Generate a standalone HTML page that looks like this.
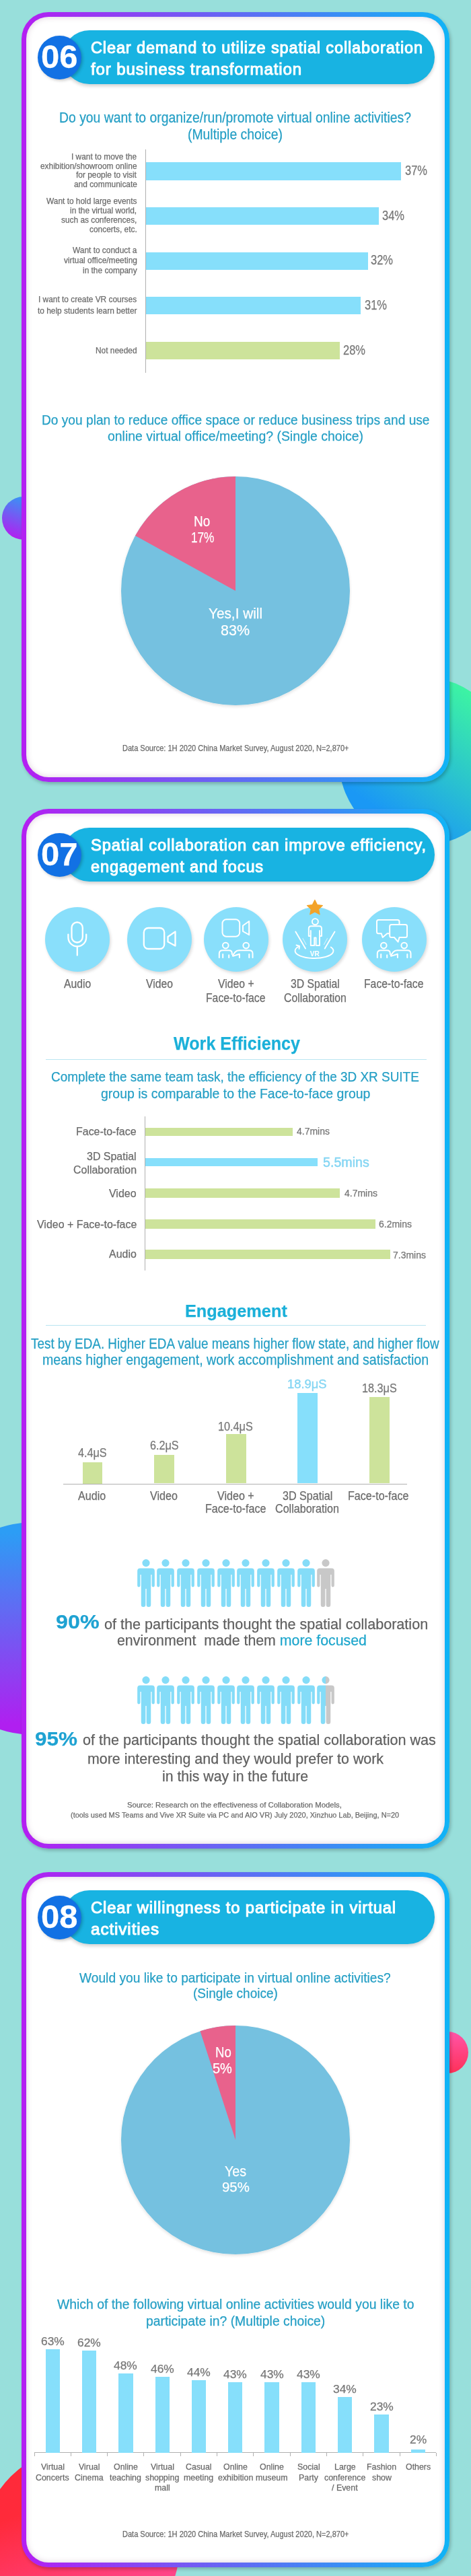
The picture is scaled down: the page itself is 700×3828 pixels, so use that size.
<!DOCTYPE html>
<html><head><meta charset="utf-8"><title>Spatial collaboration survey</title>
<style>
html,body{margin:0;padding:0}
body{width:700px;height:3828px;position:relative;overflow:hidden;background:#98dfdb;font-family:"Liberation Sans",sans-serif}
.t{position:absolute;white-space:pre;transform-origin:0 0;-webkit-text-stroke:0.25px currentColor}
svg{position:absolute;overflow:visible}
</style></head><body>
<div style="position:absolute;left:3.00px;top:738.00px;width:64.00px;height:64.00px;background:linear-gradient(200deg,#2f9cf6 10%,#b21ff0 90%);border-radius:50%;"></div>
<div style="position:absolute;left:504.00px;top:1006.00px;width:250.00px;height:250.00px;background:linear-gradient(215deg,#3ef7a0 12%,#1a98f5 78%);border-radius:50%;"></div>
<div style="position:absolute;left:-108.00px;top:2262.00px;width:316.00px;height:316.00px;background:linear-gradient(180deg,#2c9df5 5%,#b01ff0 95%);border-radius:50%;"></div>
<div style="position:absolute;left:634.00px;top:3019.00px;width:62.00px;height:62.00px;background:linear-gradient(180deg,#ff55a8,#ff3058);border-radius:50%;"></div>
<div style="position:absolute;left:-27.00px;top:3637.00px;width:294.00px;height:294.00px;background:linear-gradient(160deg,#ff2a3a 30%,#ff4fa8 90%);border-radius:50%;"></div>
<div style="position:absolute;left:32px;top:18px;width:636px;height:1144px;border-radius:40px;background:linear-gradient(90deg,#b41ef2,#10b4f6);box-shadow:2px 3px 5px rgba(0,0,0,0.22)"></div>
<div style="position:absolute;left:39px;top:25px;width:622px;height:1130px;border-radius:33px;background:#fff;box-shadow:inset 0 0 9px rgba(140,90,130,0.3)"></div>
<div style="position:absolute;left:32px;top:1202px;width:636px;height:1545px;border-radius:40px;background:linear-gradient(90deg,#b41ef2,#10b4f6);box-shadow:2px 3px 5px rgba(0,0,0,0.22)"></div>
<div style="position:absolute;left:39px;top:1209px;width:622px;height:1531px;border-radius:33px;background:#fff;box-shadow:inset 0 0 9px rgba(140,90,130,0.3)"></div>
<div style="position:absolute;left:32px;top:2782px;width:636px;height:1033px;border-radius:40px;background:linear-gradient(90deg,#b41ef2,#10b4f6);box-shadow:2px 3px 5px rgba(0,0,0,0.22)"></div>
<div style="position:absolute;left:39px;top:2789px;width:622px;height:1019px;border-radius:33px;background:#fff;box-shadow:inset 0 0 9px rgba(140,90,130,0.3)"></div>
<div style="position:absolute;left:93.00px;top:44.50px;width:553.00px;height:80.50px;background:#18b3e2;border-radius:40.25px;box-shadow:0 3px 5px rgba(0,0,0,0.18)"></div>
<div style="position:absolute;left:55.80px;top:52.90px;width:64.80px;height:64.80px;background:#1271e4;border-radius:50%;box-shadow:2px 2px 4px rgba(0,0,0,0.22)"></div>
<div style="position:absolute;left:93.00px;top:1229.50px;width:553.00px;height:80.50px;background:#18b3e2;border-radius:40.25px;box-shadow:0 3px 5px rgba(0,0,0,0.18)"></div>
<div style="position:absolute;left:55.80px;top:1237.90px;width:64.80px;height:64.80px;background:#1271e4;border-radius:50%;box-shadow:2px 2px 4px rgba(0,0,0,0.22)"></div>
<div style="position:absolute;left:93.00px;top:2808.50px;width:553.00px;height:80.50px;background:#18b3e2;border-radius:40.25px;box-shadow:0 3px 5px rgba(0,0,0,0.18)"></div>
<div style="position:absolute;left:55.80px;top:2816.90px;width:64.80px;height:64.80px;background:#1271e4;border-radius:50%;box-shadow:2px 2px 4px rgba(0,0,0,0.22)"></div>
<div style="position:absolute;left:215.60px;top:221.50px;width:1.00px;height:332.50px;background:#b0b0b0;border-radius:0px;"></div>
<div style="position:absolute;left:216.60px;top:241.00px;width:379.40px;height:27.00px;background:#86dffb;border-radius:0px;"></div>
<div style="position:absolute;left:216.60px;top:308.00px;width:346.60px;height:26.00px;background:#86dffb;border-radius:0px;"></div>
<div style="position:absolute;left:216.60px;top:374.50px;width:330.40px;height:26.20px;background:#86dffb;border-radius:0px;"></div>
<div style="position:absolute;left:216.60px;top:441.40px;width:319.40px;height:25.60px;background:#86dffb;border-radius:0px;"></div>
<div style="position:absolute;left:216.60px;top:507.70px;width:288.60px;height:26.30px;background:#cde39b;border-radius:0px;"></div>
<svg style="left:0;top:0" width="700" height="3828" viewBox="0 0 700 3828"><defs><filter id="ps878" x="-10%" y="-10%" width="120%" height="120%"><feDropShadow dx="0" dy="2" stdDeviation="2" flood-color="#000" flood-opacity="0.12"/></filter></defs><g filter="url(#ps878)"><circle cx="350" cy="878" r="170" fill="#74c1e0"/><path d="M350,878 L350,708 A170,170 0 0 0 201.03,796.10 Z" fill="#e8628c"/></g></svg>
<div style="position:absolute;left:67.00px;top:1347.50px;width:96.00px;height:96.00px;background:#89dffb;border-radius:50%;box-shadow:1.5px 2.5px 4px rgba(0,0,0,0.15)"></div>
<div style="position:absolute;left:189.30px;top:1347.50px;width:96.00px;height:96.00px;background:#89dffb;border-radius:50%;box-shadow:1.5px 2.5px 4px rgba(0,0,0,0.15)"></div>
<div style="position:absolute;left:302.50px;top:1347.50px;width:96.00px;height:96.00px;background:#89dffb;border-radius:50%;box-shadow:1.5px 2.5px 4px rgba(0,0,0,0.15)"></div>
<div style="position:absolute;left:420.00px;top:1347.50px;width:96.00px;height:96.00px;background:#89dffb;border-radius:50%;box-shadow:1.5px 2.5px 4px rgba(0,0,0,0.15)"></div>
<div style="position:absolute;left:537.50px;top:1347.50px;width:96.00px;height:96.00px;background:#89dffb;border-radius:50%;box-shadow:1.5px 2.5px 4px rgba(0,0,0,0.15)"></div>
<svg style="left:0;top:0" width="700" height="3828"><g fill="none" stroke="#fff" stroke-width="2.3" stroke-linecap="round" stroke-linejoin="round">
<rect x="106.5" y="1370.5" width="16.3" height="30" rx="8.15"/>
<path d="M101.4,1388.6 V1393 A13.4,13.4 0 0 0 128.2,1393 V1388.6"/>
<path d="M114.8,1406.6 V1419.5"/>
</g></svg>
<svg style="left:0;top:0" width="700" height="3828"><g fill="none" stroke="#fff" stroke-width="2.3" stroke-linejoin="round">
<rect x="213.8" y="1379" width="30.4" height="31" rx="6.5"/>
<path d="M249.5,1392 L260.5,1384.5 V1405.5 L249.5,1399.5 Z"/>
</g></svg>
<svg style="left:0;top:0" width="700" height="3828"><g fill="none" stroke="#fff" stroke-width="2" stroke-linejoin="round" stroke-linecap="round">
<rect x="330.5" y="1366.3" width="25.7" height="25.5" rx="6"/>
<path d="M361,1375.5 L370.2,1369 V1389.2 L361,1384 Z"/>
<g transform="translate(350.5,1395.5)"><circle cx="-15.2" cy="9.6" r="4.3"/><path d="M-24.7,27.5 V21.5 Q-24.7,16.8 -19.7,16.8 H-10.5 Q-5.7,16.8 -5.7,21 V22.5"/><path d="M-19.3,22.5 V27.5 M-10.3,23.8 V27.5"/><circle cx="15.2" cy="9.6" r="4.3"/><path d="M25,27.5 V21.5 Q25,16.8 20,16.8 H4.8 Q1.2,16.8 -1.2,19.5 L-4.6,24.2 Q-5.2,25.6 -3.6,25.1 L5.4,22.2 V27.5"/><path d="M19.8,22.5 V27.5"/></g>
</g></svg>
<svg style="left:0;top:0" width="700" height="3828"><g fill="none" stroke="#fff" stroke-width="1.9" stroke-linejoin="round" stroke-linecap="round">
<circle cx="468.4" cy="1369.6" r="4.5"/>
<path d="M458.8,1391 V1380 Q458.8,1376.3 462.5,1376.3 H474.3 Q478,1376.3 478,1380 V1391 H475 V1383 V1405 H469.6 V1393.5 H467.2 V1405 H461.8 V1383 V1391 Z"/>
<path d="M439.3,1384.5 L454,1409.5 M497.5,1384.5 L482.7,1409.5"/>
<path d="M450,1394.5 L455,1403.5 M486.5,1394.5 L481.5,1403.5" stroke-opacity="0.55" stroke-width="1.3"/>
<path d="M445,1406 A28.5,11 0 1 0 491.7,1407.5"/>
<path d="M440.5,1404.5 L445.2,1405.8 L444.5,1410"/>
</g>
<text x="467.6" y="1420.6" font-family="Liberation Sans" font-weight="700" font-size="11.5" fill="#fff" text-anchor="middle" textLength="14" lengthAdjust="spacingAndGlyphs">VR</text>
<path d="M467.9,1337.5 L471.4,1344.6 L479.3,1345.6 L473.5,1351 L475,1358.8 L467.9,1355 L460.8,1358.8 L462.3,1351 L456.5,1345.6 L464.4,1344.6 Z" fill="#f3a329" stroke="#f3a329" stroke-width="1.3" stroke-linejoin="round"/>
</svg>
<svg style="left:0;top:0" width="700" height="3828"><g fill="none" stroke="#fff" stroke-width="2" stroke-linejoin="round" stroke-linecap="round">
<path d="M593.5,1373.5 V1369.5 Q593.5,1367 591,1367 H562.5 Q560,1367 560,1369.5 V1384.8 Q560,1387.3 562.5,1387.3 H566.8 L568.7,1393 L575.4,1387.3 H579"/>
<path d="M581.7,1374 H602.5 Q605,1374 605,1376.5 V1390.5 Q605,1393 602.5,1393 H593.5 L591.6,1399.7 L585.9,1393 H581.7 Q579.2,1393 579.2,1390.5 V1376.5 Q579.2,1374 581.7,1374 Z"/>
<g transform="translate(585.5,1395.5)"><circle cx="-15.2" cy="9.6" r="4.3"/><path d="M-24.7,27.5 V21.5 Q-24.7,16.8 -19.7,16.8 H-10.5 Q-5.7,16.8 -5.7,21 V22.5"/><path d="M-19.3,22.5 V27.5 M-10.3,23.8 V27.5"/><circle cx="15.2" cy="9.6" r="4.3"/><path d="M25,27.5 V21.5 Q25,16.8 20,16.8 H4.8 Q1.2,16.8 -1.2,19.5 L-4.6,24.2 Q-5.2,25.6 -3.6,25.1 L5.4,22.2 V27.5"/><path d="M19.8,22.5 V27.5"/></g>
</g></svg>
<div style="position:absolute;left:67.60px;top:1574.00px;width:566.70px;height:1.20px;background:#b9e5f1;border-radius:0px;"></div>
<div style="position:absolute;left:215.00px;top:1658.50px;width:1.00px;height:229.30px;background:#b0b0b0;border-radius:0px;"></div>
<div style="position:absolute;left:216.00px;top:1675.50px;width:218.60px;height:12.50px;background:#cde39b;border-radius:0px;"></div>
<div style="position:absolute;left:216.00px;top:1720.60px;width:256.40px;height:12.40px;background:#86dffb;border-radius:0px;"></div>
<div style="position:absolute;left:216.00px;top:1766.30px;width:289.00px;height:14.10px;background:#cde39b;border-radius:0px;"></div>
<div style="position:absolute;left:216.00px;top:1812.00px;width:341.60px;height:13.70px;background:#cde39b;border-radius:0px;"></div>
<div style="position:absolute;left:216.00px;top:1857.40px;width:363.50px;height:14.00px;background:#cde39b;border-radius:0px;"></div>
<div style="position:absolute;left:67.60px;top:1969.00px;width:565.40px;height:1.20px;background:#b9e5f1;border-radius:0px;"></div>
<div style="position:absolute;left:94.00px;top:2204.50px;width:511.00px;height:1.20px;background:#b0b0b0;border-radius:0px;"></div>
<div style="position:absolute;left:123.00px;top:2172.50px;width:29.40px;height:32.00px;background:#cde39b;border-radius:0px;"></div>
<div style="position:absolute;left:229.30px;top:2161.80px;width:29.30px;height:42.70px;background:#cde39b;border-radius:0px;"></div>
<div style="position:absolute;left:335.90px;top:2131.30px;width:29.70px;height:73.20px;background:#cde39b;border-radius:0px;"></div>
<div style="position:absolute;left:442.00px;top:2069.70px;width:29.70px;height:134.80px;background:#86dffb;border-radius:0px;"></div>
<div style="position:absolute;left:549.00px;top:2075.70px;width:29.50px;height:128.80px;background:#cde39b;border-radius:0px;"></div>
<svg style="left:203.50px;top:2317.00px" width="26" height="71" viewBox="0 0 25.7 71"><g fill="#84dcf8"><circle cx="12.85" cy="5.6" r="5.6"/><path d="M4,13.5 H21.7 Q25.7,13.5 25.7,17.5 V39.25 A2.15,2.15 0 0 1 21.4,39.25 V23 H20.1 V67.7 A3.3,3.3 0 0 1 13.5,67.7 V44 H12.2 V67.7 A3.3,3.3 0 0 1 5.6,67.7 V23 H4.3 V39.25 A2.15,2.15 0 0 1 0,39.25 V17.5 Q0,13.5 4,13.5 Z"/></g></svg>
<svg style="left:233.25px;top:2317.00px" width="26" height="71" viewBox="0 0 25.7 71"><g fill="#84dcf8"><circle cx="12.85" cy="5.6" r="5.6"/><path d="M4,13.5 H21.7 Q25.7,13.5 25.7,17.5 V39.25 A2.15,2.15 0 0 1 21.4,39.25 V23 H20.1 V67.7 A3.3,3.3 0 0 1 13.5,67.7 V44 H12.2 V67.7 A3.3,3.3 0 0 1 5.6,67.7 V23 H4.3 V39.25 A2.15,2.15 0 0 1 0,39.25 V17.5 Q0,13.5 4,13.5 Z"/></g></svg>
<svg style="left:263.00px;top:2317.00px" width="26" height="71" viewBox="0 0 25.7 71"><g fill="#84dcf8"><circle cx="12.85" cy="5.6" r="5.6"/><path d="M4,13.5 H21.7 Q25.7,13.5 25.7,17.5 V39.25 A2.15,2.15 0 0 1 21.4,39.25 V23 H20.1 V67.7 A3.3,3.3 0 0 1 13.5,67.7 V44 H12.2 V67.7 A3.3,3.3 0 0 1 5.6,67.7 V23 H4.3 V39.25 A2.15,2.15 0 0 1 0,39.25 V17.5 Q0,13.5 4,13.5 Z"/></g></svg>
<svg style="left:292.75px;top:2317.00px" width="26" height="71" viewBox="0 0 25.7 71"><g fill="#84dcf8"><circle cx="12.85" cy="5.6" r="5.6"/><path d="M4,13.5 H21.7 Q25.7,13.5 25.7,17.5 V39.25 A2.15,2.15 0 0 1 21.4,39.25 V23 H20.1 V67.7 A3.3,3.3 0 0 1 13.5,67.7 V44 H12.2 V67.7 A3.3,3.3 0 0 1 5.6,67.7 V23 H4.3 V39.25 A2.15,2.15 0 0 1 0,39.25 V17.5 Q0,13.5 4,13.5 Z"/></g></svg>
<svg style="left:322.50px;top:2317.00px" width="26" height="71" viewBox="0 0 25.7 71"><g fill="#84dcf8"><circle cx="12.85" cy="5.6" r="5.6"/><path d="M4,13.5 H21.7 Q25.7,13.5 25.7,17.5 V39.25 A2.15,2.15 0 0 1 21.4,39.25 V23 H20.1 V67.7 A3.3,3.3 0 0 1 13.5,67.7 V44 H12.2 V67.7 A3.3,3.3 0 0 1 5.6,67.7 V23 H4.3 V39.25 A2.15,2.15 0 0 1 0,39.25 V17.5 Q0,13.5 4,13.5 Z"/></g></svg>
<svg style="left:352.25px;top:2317.00px" width="26" height="71" viewBox="0 0 25.7 71"><g fill="#84dcf8"><circle cx="12.85" cy="5.6" r="5.6"/><path d="M4,13.5 H21.7 Q25.7,13.5 25.7,17.5 V39.25 A2.15,2.15 0 0 1 21.4,39.25 V23 H20.1 V67.7 A3.3,3.3 0 0 1 13.5,67.7 V44 H12.2 V67.7 A3.3,3.3 0 0 1 5.6,67.7 V23 H4.3 V39.25 A2.15,2.15 0 0 1 0,39.25 V17.5 Q0,13.5 4,13.5 Z"/></g></svg>
<svg style="left:382.00px;top:2317.00px" width="26" height="71" viewBox="0 0 25.7 71"><g fill="#84dcf8"><circle cx="12.85" cy="5.6" r="5.6"/><path d="M4,13.5 H21.7 Q25.7,13.5 25.7,17.5 V39.25 A2.15,2.15 0 0 1 21.4,39.25 V23 H20.1 V67.7 A3.3,3.3 0 0 1 13.5,67.7 V44 H12.2 V67.7 A3.3,3.3 0 0 1 5.6,67.7 V23 H4.3 V39.25 A2.15,2.15 0 0 1 0,39.25 V17.5 Q0,13.5 4,13.5 Z"/></g></svg>
<svg style="left:411.75px;top:2317.00px" width="26" height="71" viewBox="0 0 25.7 71"><g fill="#84dcf8"><circle cx="12.85" cy="5.6" r="5.6"/><path d="M4,13.5 H21.7 Q25.7,13.5 25.7,17.5 V39.25 A2.15,2.15 0 0 1 21.4,39.25 V23 H20.1 V67.7 A3.3,3.3 0 0 1 13.5,67.7 V44 H12.2 V67.7 A3.3,3.3 0 0 1 5.6,67.7 V23 H4.3 V39.25 A2.15,2.15 0 0 1 0,39.25 V17.5 Q0,13.5 4,13.5 Z"/></g></svg>
<svg style="left:441.50px;top:2317.00px" width="26" height="71" viewBox="0 0 25.7 71"><g fill="#84dcf8"><circle cx="12.85" cy="5.6" r="5.6"/><path d="M4,13.5 H21.7 Q25.7,13.5 25.7,17.5 V39.25 A2.15,2.15 0 0 1 21.4,39.25 V23 H20.1 V67.7 A3.3,3.3 0 0 1 13.5,67.7 V44 H12.2 V67.7 A3.3,3.3 0 0 1 5.6,67.7 V23 H4.3 V39.25 A2.15,2.15 0 0 1 0,39.25 V17.5 Q0,13.5 4,13.5 Z"/></g></svg>
<svg style="left:471.25px;top:2317.00px" width="26" height="71" viewBox="0 0 25.7 71"><g fill="#c8c8c8"><circle cx="12.85" cy="5.6" r="5.6"/><path d="M4,13.5 H21.7 Q25.7,13.5 25.7,17.5 V39.25 A2.15,2.15 0 0 1 21.4,39.25 V23 H20.1 V67.7 A3.3,3.3 0 0 1 13.5,67.7 V44 H12.2 V67.7 A3.3,3.3 0 0 1 5.6,67.7 V23 H4.3 V39.25 A2.15,2.15 0 0 1 0,39.25 V17.5 Q0,13.5 4,13.5 Z"/></g></svg>
<svg style="left:203.50px;top:2491.00px" width="26" height="71" viewBox="0 0 25.7 71"><g fill="#84dcf8"><circle cx="12.85" cy="5.6" r="5.6"/><path d="M4,13.5 H21.7 Q25.7,13.5 25.7,17.5 V39.25 A2.15,2.15 0 0 1 21.4,39.25 V23 H20.1 V67.7 A3.3,3.3 0 0 1 13.5,67.7 V44 H12.2 V67.7 A3.3,3.3 0 0 1 5.6,67.7 V23 H4.3 V39.25 A2.15,2.15 0 0 1 0,39.25 V17.5 Q0,13.5 4,13.5 Z"/></g></svg>
<svg style="left:233.25px;top:2491.00px" width="26" height="71" viewBox="0 0 25.7 71"><g fill="#84dcf8"><circle cx="12.85" cy="5.6" r="5.6"/><path d="M4,13.5 H21.7 Q25.7,13.5 25.7,17.5 V39.25 A2.15,2.15 0 0 1 21.4,39.25 V23 H20.1 V67.7 A3.3,3.3 0 0 1 13.5,67.7 V44 H12.2 V67.7 A3.3,3.3 0 0 1 5.6,67.7 V23 H4.3 V39.25 A2.15,2.15 0 0 1 0,39.25 V17.5 Q0,13.5 4,13.5 Z"/></g></svg>
<svg style="left:263.00px;top:2491.00px" width="26" height="71" viewBox="0 0 25.7 71"><g fill="#84dcf8"><circle cx="12.85" cy="5.6" r="5.6"/><path d="M4,13.5 H21.7 Q25.7,13.5 25.7,17.5 V39.25 A2.15,2.15 0 0 1 21.4,39.25 V23 H20.1 V67.7 A3.3,3.3 0 0 1 13.5,67.7 V44 H12.2 V67.7 A3.3,3.3 0 0 1 5.6,67.7 V23 H4.3 V39.25 A2.15,2.15 0 0 1 0,39.25 V17.5 Q0,13.5 4,13.5 Z"/></g></svg>
<svg style="left:292.75px;top:2491.00px" width="26" height="71" viewBox="0 0 25.7 71"><g fill="#84dcf8"><circle cx="12.85" cy="5.6" r="5.6"/><path d="M4,13.5 H21.7 Q25.7,13.5 25.7,17.5 V39.25 A2.15,2.15 0 0 1 21.4,39.25 V23 H20.1 V67.7 A3.3,3.3 0 0 1 13.5,67.7 V44 H12.2 V67.7 A3.3,3.3 0 0 1 5.6,67.7 V23 H4.3 V39.25 A2.15,2.15 0 0 1 0,39.25 V17.5 Q0,13.5 4,13.5 Z"/></g></svg>
<svg style="left:322.50px;top:2491.00px" width="26" height="71" viewBox="0 0 25.7 71"><g fill="#84dcf8"><circle cx="12.85" cy="5.6" r="5.6"/><path d="M4,13.5 H21.7 Q25.7,13.5 25.7,17.5 V39.25 A2.15,2.15 0 0 1 21.4,39.25 V23 H20.1 V67.7 A3.3,3.3 0 0 1 13.5,67.7 V44 H12.2 V67.7 A3.3,3.3 0 0 1 5.6,67.7 V23 H4.3 V39.25 A2.15,2.15 0 0 1 0,39.25 V17.5 Q0,13.5 4,13.5 Z"/></g></svg>
<svg style="left:352.25px;top:2491.00px" width="26" height="71" viewBox="0 0 25.7 71"><g fill="#84dcf8"><circle cx="12.85" cy="5.6" r="5.6"/><path d="M4,13.5 H21.7 Q25.7,13.5 25.7,17.5 V39.25 A2.15,2.15 0 0 1 21.4,39.25 V23 H20.1 V67.7 A3.3,3.3 0 0 1 13.5,67.7 V44 H12.2 V67.7 A3.3,3.3 0 0 1 5.6,67.7 V23 H4.3 V39.25 A2.15,2.15 0 0 1 0,39.25 V17.5 Q0,13.5 4,13.5 Z"/></g></svg>
<svg style="left:382.00px;top:2491.00px" width="26" height="71" viewBox="0 0 25.7 71"><g fill="#84dcf8"><circle cx="12.85" cy="5.6" r="5.6"/><path d="M4,13.5 H21.7 Q25.7,13.5 25.7,17.5 V39.25 A2.15,2.15 0 0 1 21.4,39.25 V23 H20.1 V67.7 A3.3,3.3 0 0 1 13.5,67.7 V44 H12.2 V67.7 A3.3,3.3 0 0 1 5.6,67.7 V23 H4.3 V39.25 A2.15,2.15 0 0 1 0,39.25 V17.5 Q0,13.5 4,13.5 Z"/></g></svg>
<svg style="left:411.75px;top:2491.00px" width="26" height="71" viewBox="0 0 25.7 71"><g fill="#84dcf8"><circle cx="12.85" cy="5.6" r="5.6"/><path d="M4,13.5 H21.7 Q25.7,13.5 25.7,17.5 V39.25 A2.15,2.15 0 0 1 21.4,39.25 V23 H20.1 V67.7 A3.3,3.3 0 0 1 13.5,67.7 V44 H12.2 V67.7 A3.3,3.3 0 0 1 5.6,67.7 V23 H4.3 V39.25 A2.15,2.15 0 0 1 0,39.25 V17.5 Q0,13.5 4,13.5 Z"/></g></svg>
<svg style="left:441.50px;top:2491.00px" width="26" height="71" viewBox="0 0 25.7 71"><g fill="#84dcf8"><circle cx="12.85" cy="5.6" r="5.6"/><path d="M4,13.5 H21.7 Q25.7,13.5 25.7,17.5 V39.25 A2.15,2.15 0 0 1 21.4,39.25 V23 H20.1 V67.7 A3.3,3.3 0 0 1 13.5,67.7 V44 H12.2 V67.7 A3.3,3.3 0 0 1 5.6,67.7 V23 H4.3 V39.25 A2.15,2.15 0 0 1 0,39.25 V17.5 Q0,13.5 4,13.5 Z"/></g></svg>
<svg style="left:471.25px;top:2491.00px" width="26" height="71" viewBox="0 0 25.7 71"><defs><linearGradient id="half2491" x1="0" x2="1" y1="0" y2="0"><stop offset="0.5" stop-color="#84dcf8"/><stop offset="0.5" stop-color="#c8c8c8"/></linearGradient></defs><g fill="url(#half2491)"><circle cx="12.85" cy="5.6" r="5.6"/><path d="M4,13.5 H21.7 Q25.7,13.5 25.7,17.5 V39.25 A2.15,2.15 0 0 1 21.4,39.25 V23 H20.1 V67.7 A3.3,3.3 0 0 1 13.5,67.7 V44 H12.2 V67.7 A3.3,3.3 0 0 1 5.6,67.7 V23 H4.3 V39.25 A2.15,2.15 0 0 1 0,39.25 V17.5 Q0,13.5 4,13.5 Z"/></g></svg>
<svg style="left:0;top:0" width="700" height="3828" viewBox="0 0 700 3828"><defs><filter id="ps3180" x="-10%" y="-10%" width="120%" height="120%"><feDropShadow dx="0" dy="2" stdDeviation="2" flood-color="#000" flood-opacity="0.12"/></filter></defs><g filter="url(#ps3180)"><circle cx="350" cy="3180" r="170" fill="#74c1e0"/><path d="M350,3180 L350,3010 A170,170 0 0 0 297.47,3018.32 Z" fill="#e8628c"/></g></svg>
<div style="position:absolute;left:51.00px;top:3644.00px;width:597.40px;height:1.20px;background:#b0b0b0;border-radius:0px;"></div>
<div style="position:absolute;left:50.50px;top:3644.60px;width:1.00px;height:5.00px;background:#b0b0b0;border-radius:0px;"></div>
<div style="position:absolute;left:104.81px;top:3644.60px;width:1.00px;height:5.00px;background:#b0b0b0;border-radius:0px;"></div>
<div style="position:absolute;left:159.12px;top:3644.60px;width:1.00px;height:5.00px;background:#b0b0b0;border-radius:0px;"></div>
<div style="position:absolute;left:213.43px;top:3644.60px;width:1.00px;height:5.00px;background:#b0b0b0;border-radius:0px;"></div>
<div style="position:absolute;left:267.74px;top:3644.60px;width:1.00px;height:5.00px;background:#b0b0b0;border-radius:0px;"></div>
<div style="position:absolute;left:322.05px;top:3644.60px;width:1.00px;height:5.00px;background:#b0b0b0;border-radius:0px;"></div>
<div style="position:absolute;left:376.36px;top:3644.60px;width:1.00px;height:5.00px;background:#b0b0b0;border-radius:0px;"></div>
<div style="position:absolute;left:430.67px;top:3644.60px;width:1.00px;height:5.00px;background:#b0b0b0;border-radius:0px;"></div>
<div style="position:absolute;left:484.98px;top:3644.60px;width:1.00px;height:5.00px;background:#b0b0b0;border-radius:0px;"></div>
<div style="position:absolute;left:539.29px;top:3644.60px;width:1.00px;height:5.00px;background:#b0b0b0;border-radius:0px;"></div>
<div style="position:absolute;left:593.60px;top:3644.60px;width:1.00px;height:5.00px;background:#b0b0b0;border-radius:0px;"></div>
<div style="position:absolute;left:647.91px;top:3644.60px;width:1.00px;height:5.00px;background:#b0b0b0;border-radius:0px;"></div>
<div style="position:absolute;left:67.60px;top:3490.88px;width:21.30px;height:153.72px;background:#86dffb;border-radius:0px;"></div>
<div style="position:absolute;left:121.91px;top:3493.32px;width:21.30px;height:151.28px;background:#86dffb;border-radius:0px;"></div>
<div style="position:absolute;left:176.22px;top:3527.48px;width:21.30px;height:117.12px;background:#86dffb;border-radius:0px;"></div>
<div style="position:absolute;left:230.53px;top:3532.36px;width:21.30px;height:112.24px;background:#86dffb;border-radius:0px;"></div>
<div style="position:absolute;left:284.84px;top:3537.24px;width:21.30px;height:107.36px;background:#86dffb;border-radius:0px;"></div>
<div style="position:absolute;left:339.15px;top:3539.68px;width:21.30px;height:104.92px;background:#86dffb;border-radius:0px;"></div>
<div style="position:absolute;left:393.46px;top:3539.68px;width:21.30px;height:104.92px;background:#86dffb;border-radius:0px;"></div>
<div style="position:absolute;left:447.77px;top:3539.68px;width:21.30px;height:104.92px;background:#86dffb;border-radius:0px;"></div>
<div style="position:absolute;left:502.08px;top:3561.64px;width:21.30px;height:82.96px;background:#86dffb;border-radius:0px;"></div>
<div style="position:absolute;left:556.39px;top:3588.48px;width:21.30px;height:56.12px;background:#86dffb;border-radius:0px;"></div>
<div style="position:absolute;left:610.70px;top:3639.72px;width:21.30px;height:4.88px;background:#86dffb;border-radius:0px;"></div>
<div class="t" style="left:60.95px;top:60.65px;font-size:47.83px;line-height:47.83px;color:#fff;font-weight:700;transform:scaleX(1.0244);z-index:6;;letter-spacing:0px">06</div>
<div class="t" style="left:134.50px;top:58.85px;font-size:24.06px;line-height:24.06px;color:#fff;transform:scaleX(0.9769);z-index:6;-webkit-text-stroke:1.05px #fff;letter-spacing:0.9px">Clear demand to utilize spatial collaboration</div>
<div class="t" style="left:134.50px;top:90.55px;font-size:24.06px;line-height:24.06px;color:#fff;transform:scaleX(0.9989);z-index:6;-webkit-text-stroke:1.05px #fff;letter-spacing:0.9px">for business transformation</div>
<div class="t" style="left:60.95px;top:1245.65px;font-size:47.83px;line-height:47.83px;color:#fff;font-weight:700;transform:scaleX(1.0244);z-index:6;;letter-spacing:0px">07</div>
<div class="t" style="left:134.50px;top:1243.85px;font-size:24.06px;line-height:24.06px;color:#fff;transform:scaleX(0.9860);z-index:6;-webkit-text-stroke:1.05px #fff;letter-spacing:0.9px">Spatial collaboration can improve efficiency,</div>
<div class="t" style="left:134.50px;top:1275.55px;font-size:24.06px;line-height:24.06px;color:#fff;transform:scaleX(0.9784);z-index:6;-webkit-text-stroke:1.05px #fff;letter-spacing:0.9px">engagement and focus</div>
<div class="t" style="left:60.95px;top:2824.65px;font-size:47.83px;line-height:47.83px;color:#fff;font-weight:700;transform:scaleX(1.0244);z-index:6;;letter-spacing:0px">08</div>
<div class="t" style="left:134.50px;top:2822.85px;font-size:24.06px;line-height:24.06px;color:#fff;transform:scaleX(0.9876);z-index:6;-webkit-text-stroke:1.05px #fff;letter-spacing:0.9px">Clear willingness to participate in virtual</div>
<div class="t" style="left:134.50px;top:2854.55px;font-size:24.06px;line-height:24.06px;color:#fff;transform:scaleX(1.0077);z-index:6;-webkit-text-stroke:1.05px #fff;letter-spacing:0.9px">activities</div>
<div class="t" style="left:87.80px;top:164.21px;font-size:21.16px;line-height:21.16px;color:#259fc5;transform:scaleX(0.9151);z-index:5;;letter-spacing:0px">Do you want to organize/run/promote virtual online activities?</div>
<div class="t" style="left:279.00px;top:188.51px;font-size:21.16px;line-height:21.16px;color:#259fc5;transform:scaleX(0.9154);z-index:5;;letter-spacing:0px">(Multiple choice)</div>
<div class="t" style="left:602.40px;top:244.22px;font-size:19.86px;line-height:19.86px;color:#777;transform:scaleX(0.8302);z-index:5;;letter-spacing:0px">37%</div>
<div class="t" style="left:568.00px;top:310.72px;font-size:19.86px;line-height:19.86px;color:#777;transform:scaleX(0.8302);z-index:5;;letter-spacing:0px">34%</div>
<div class="t" style="left:550.60px;top:377.32px;font-size:19.86px;line-height:19.86px;color:#777;transform:scaleX(0.8302);z-index:5;;letter-spacing:0px">32%</div>
<div class="t" style="left:541.80px;top:443.92px;font-size:19.86px;line-height:19.86px;color:#777;transform:scaleX(0.8302);z-index:5;;letter-spacing:0px">31%</div>
<div class="t" style="left:509.60px;top:510.57px;font-size:19.86px;line-height:19.86px;color:#777;transform:scaleX(0.8302);z-index:5;;letter-spacing:0px">28%</div>
<div class="t" style="left:106.20px;top:226.42px;font-size:13.62px;line-height:13.62px;color:#6a6a6a;transform:scaleX(0.8741);z-index:5;;letter-spacing:0px">I want to move the</div>
<div class="t" style="left:59.90px;top:239.92px;font-size:13.62px;line-height:13.62px;color:#6a6a6a;transform:scaleX(0.8741);z-index:5;;letter-spacing:0px">exhibition/showroom online</div>
<div class="t" style="left:113.46px;top:253.42px;font-size:13.62px;line-height:13.62px;color:#6a6a6a;transform:scaleX(0.8741);z-index:5;;letter-spacing:0px">for people to visit</div>
<div class="t" style="left:109.50px;top:266.92px;font-size:13.62px;line-height:13.62px;color:#6a6a6a;transform:scaleX(0.8741);z-index:5;;letter-spacing:0px">and communicate</div>
<div class="t" style="left:68.94px;top:292.12px;font-size:13.62px;line-height:13.62px;color:#6a6a6a;transform:scaleX(0.8741);z-index:5;;letter-spacing:0px">Want to hold large events</div>
<div class="t" style="left:104.22px;top:306.42px;font-size:13.62px;line-height:13.62px;color:#6a6a6a;transform:scaleX(0.8741);z-index:5;;letter-spacing:0px">in the virtual world,</div>
<div class="t" style="left:90.98px;top:320.32px;font-size:13.62px;line-height:13.62px;color:#6a6a6a;transform:scaleX(0.8741);z-index:5;;letter-spacing:0px">such as conferences,</div>
<div class="t" style="left:132.65px;top:333.92px;font-size:13.62px;line-height:13.62px;color:#6a6a6a;transform:scaleX(0.8741);z-index:5;;letter-spacing:0px">concerts, etc.</div>
<div class="t" style="left:107.96px;top:365.42px;font-size:13.62px;line-height:13.62px;color:#6a6a6a;transform:scaleX(0.8741);z-index:5;;letter-spacing:0px">Want to conduct a</div>
<div class="t" style="left:94.51px;top:380.12px;font-size:13.62px;line-height:13.62px;color:#6a6a6a;transform:scaleX(0.8741);z-index:5;;letter-spacing:0px">virtual office/meeting</div>
<div class="t" style="left:122.72px;top:395.42px;font-size:13.62px;line-height:13.62px;color:#6a6a6a;transform:scaleX(0.8741);z-index:5;;letter-spacing:0px">in the company</div>
<div class="t" style="left:57.28px;top:438.42px;font-size:13.62px;line-height:13.62px;color:#6a6a6a;transform:scaleX(0.8741);z-index:5;;letter-spacing:0px">I want to create VR courses</div>
<div class="t" style="left:55.93px;top:454.82px;font-size:13.62px;line-height:13.62px;color:#6a6a6a;transform:scaleX(0.8741);z-index:5;;letter-spacing:0px">to help students learn better</div>
<div class="t" style="left:141.89px;top:514.42px;font-size:13.62px;line-height:13.62px;color:#6a6a6a;transform:scaleX(0.8741);z-index:5;;letter-spacing:0px">Not needed</div>
<div class="t" style="left:61.95px;top:614.18px;font-size:20.72px;line-height:20.72px;color:#259fc5;transform:scaleX(0.9241);z-index:5;;letter-spacing:0px">Do you plan to reduce office space or reduce business trips and use</div>
<div class="t" style="left:160.00px;top:638.08px;font-size:20.72px;line-height:20.72px;color:#259fc5;transform:scaleX(0.9382);z-index:5;;letter-spacing:0px">online virtual office/meeting? (Single choice)</div>
<div class="t" style="left:288.40px;top:763.91px;font-size:22.46px;line-height:22.46px;color:#fff;transform:scaleX(0.8431);z-index:5;;letter-spacing:0px">No</div>
<div class="t" style="left:283.90px;top:787.51px;font-size:21.16px;line-height:21.16px;color:#fff;transform:scaleX(0.8124);z-index:5;;letter-spacing:0px">17%</div>
<div class="t" style="left:310.00px;top:900.91px;font-size:22.46px;line-height:22.46px;color:#fff;transform:scaleX(0.9245);z-index:5;;letter-spacing:0px">Yes,I will</div>
<div class="t" style="left:328.00px;top:926.01px;font-size:21.16px;line-height:21.16px;color:#fff;transform:scaleX(1.0155);z-index:5;;letter-spacing:0px">83%</div>
<div class="t" style="left:181.55px;top:1106.45px;font-size:12.17px;line-height:12.17px;color:#6a6a6a;transform:scaleX(0.9076);z-index:5;;letter-spacing:0px">Data Source: 1H 2020 China Market Survey, August 2020, N=2,870+</div>
<div class="t" style="left:94.85px;top:1454.17px;font-size:17.68px;line-height:17.68px;color:#6a6a6a;transform:scaleX(0.8915);z-index:5;;letter-spacing:0px">Audio</div>
<div class="t" style="left:216.99px;top:1454.17px;font-size:17.68px;line-height:17.68px;color:#6a6a6a;transform:scaleX(0.8915);z-index:5;;letter-spacing:0px">Video</div>
<div class="t" style="left:324.21px;top:1454.17px;font-size:17.68px;line-height:17.68px;color:#6a6a6a;transform:scaleX(0.8915);z-index:5;;letter-spacing:0px">Video +</div>
<div class="t" style="left:306.28px;top:1474.57px;font-size:17.68px;line-height:17.68px;color:#6a6a6a;transform:scaleX(0.8915);z-index:5;;letter-spacing:0px">Face-to-face</div>
<div class="t" style="left:431.65px;top:1454.17px;font-size:17.68px;line-height:17.68px;color:#6a6a6a;transform:scaleX(0.8915);z-index:5;;letter-spacing:0px">3D Spatial</div>
<div class="t" style="left:421.58px;top:1474.57px;font-size:17.68px;line-height:17.68px;color:#6a6a6a;transform:scaleX(0.8915);z-index:5;;letter-spacing:0px">Collaboration</div>
<div class="t" style="left:540.78px;top:1454.17px;font-size:17.68px;line-height:17.68px;color:#6a6a6a;transform:scaleX(0.8915);z-index:5;;letter-spacing:0px">Face-to-face</div>
<div class="t" style="left:257.60px;top:1537.35px;font-size:27.83px;line-height:27.83px;color:#1bb0d9;font-weight:700;transform:scaleX(0.9027);z-index:5;;letter-spacing:0px">Work Efficiency</div>
<div class="t" style="left:76.00px;top:1590.43px;font-size:20.43px;line-height:20.43px;color:#259fc5;transform:scaleX(0.9270);z-index:5;;letter-spacing:0px">Complete the same team task, the efficiency of the 3D XR SUITE</div>
<div class="t" style="left:149.80px;top:1614.53px;font-size:20.43px;line-height:20.43px;color:#259fc5;transform:scaleX(0.9533);z-index:5;;letter-spacing:0px">group is comparable to the Face-to-face group</div>
<div class="t" style="left:440.80px;top:1673.81px;font-size:14.93px;line-height:14.93px;color:#777;transform:scaleX(0.9378);z-index:5;;letter-spacing:0px">4.7mins</div>
<div class="t" style="left:511.70px;top:1766.21px;font-size:14.93px;line-height:14.93px;color:#777;transform:scaleX(0.9378);z-index:5;;letter-spacing:0px">4.7mins</div>
<div class="t" style="left:562.70px;top:1812.01px;font-size:14.93px;line-height:14.93px;color:#777;transform:scaleX(0.9378);z-index:5;;letter-spacing:0px">6.2mins</div>
<div class="t" style="left:584.00px;top:1857.91px;font-size:14.93px;line-height:14.93px;color:#777;transform:scaleX(0.9378);z-index:5;;letter-spacing:0px">7.3mins</div>
<div class="t" style="left:480.00px;top:1716.65px;font-size:20.29px;line-height:20.29px;color:#86d6f3;transform:scaleX(0.9688);z-index:5;-webkit-text-stroke:0.5px #86d6f3;letter-spacing:0px">5.5mins</div>
<div class="t" style="left:113.40px;top:1672.90px;font-size:16.23px;line-height:16.23px;color:#6a6a6a;transform:scaleX(0.9841);z-index:5;;letter-spacing:0px">Face-to-face</div>
<div class="t" style="left:129.35px;top:1710.20px;font-size:16.23px;line-height:16.23px;color:#6a6a6a;transform:scaleX(0.9841);z-index:5;;letter-spacing:0px">3D Spatial</div>
<div class="t" style="left:108.94px;top:1729.60px;font-size:16.23px;line-height:16.23px;color:#6a6a6a;transform:scaleX(0.9841);z-index:5;;letter-spacing:0px">Collaboration</div>
<div class="t" style="left:162.45px;top:1765.20px;font-size:16.23px;line-height:16.23px;color:#6a6a6a;transform:scaleX(0.9841);z-index:5;;letter-spacing:0px">Video</div>
<div class="t" style="left:54.68px;top:1810.90px;font-size:16.23px;line-height:16.23px;color:#6a6a6a;transform:scaleX(0.9841);z-index:5;;letter-spacing:0px">Video + Face-to-face</div>
<div class="t" style="left:162.17px;top:1855.30px;font-size:16.23px;line-height:16.23px;color:#6a6a6a;transform:scaleX(0.9841);z-index:5;;letter-spacing:0px">Audio</div>
<div class="t" style="left:275.00px;top:1934.98px;font-size:26.38px;line-height:26.38px;color:#1bb0d9;font-weight:700;transform:scaleX(0.9591);z-index:5;;letter-spacing:0px">Engagement</div>
<div class="t" style="left:46.40px;top:1986.24px;font-size:21.59px;line-height:21.59px;color:#259fc5;transform:scaleX(0.8750);z-index:5;;letter-spacing:0px">Test by EDA. Higher EDA value means higher flow state, and higher flow</div>
<div class="t" style="left:63.45px;top:2009.64px;font-size:21.59px;line-height:21.59px;color:#259fc5;transform:scaleX(0.9082);z-index:5;;letter-spacing:0px">means higher engagement, work accomplishment and satisfaction</div>
<div class="t" style="left:116.36px;top:2150.85px;font-size:17.83px;line-height:17.83px;color:#777;transform:scaleX(0.9090);z-index:5;;letter-spacing:0px">4.4μS</div>
<div class="t" style="left:222.56px;top:2140.35px;font-size:17.83px;line-height:17.83px;color:#777;transform:scaleX(0.9090);z-index:5;;letter-spacing:0px">6.2μS</div>
<div class="t" style="left:323.65px;top:2111.85px;font-size:17.83px;line-height:17.83px;color:#777;transform:scaleX(0.9090);z-index:5;;letter-spacing:0px">10.4μS</div>
<div class="t" style="left:537.65px;top:2055.45px;font-size:17.83px;line-height:17.83px;color:#777;transform:scaleX(0.9090);z-index:5;;letter-spacing:0px">18.3μS</div>
<div class="t" style="left:426.70px;top:2047.63px;font-size:18.55px;line-height:18.55px;color:#86d6f3;transform:scaleX(0.9914);z-index:5;;letter-spacing:0px"><span style="-webkit-text-stroke:0.4px #86d6f3">18.9μS</span></div>
<div class="t" style="left:116.30px;top:2214.97px;font-size:17.68px;line-height:17.68px;color:#6a6a6a;transform:scaleX(0.9113);z-index:5;;letter-spacing:0px">Audio</div>
<div class="t" style="left:222.95px;top:2214.97px;font-size:17.68px;line-height:17.68px;color:#6a6a6a;transform:scaleX(0.9113);z-index:5;;letter-spacing:0px">Video</div>
<div class="t" style="left:323.11px;top:2214.97px;font-size:17.68px;line-height:17.68px;color:#6a6a6a;transform:scaleX(0.9113);z-index:5;;letter-spacing:0px">Video +</div>
<div class="t" style="left:305.30px;top:2233.97px;font-size:17.68px;line-height:17.68px;color:#6a6a6a;transform:scaleX(0.9113);z-index:5;;letter-spacing:0px">Face-to-face</div>
<div class="t" style="left:420.14px;top:2214.97px;font-size:17.68px;line-height:17.68px;color:#6a6a6a;transform:scaleX(0.9113);z-index:5;;letter-spacing:0px">3D Spatial</div>
<div class="t" style="left:409.05px;top:2233.97px;font-size:17.68px;line-height:17.68px;color:#6a6a6a;transform:scaleX(0.9113);z-index:5;;letter-spacing:0px">Collaboration</div>
<div class="t" style="left:517.00px;top:2214.97px;font-size:17.68px;line-height:17.68px;color:#6a6a6a;transform:scaleX(0.9113);z-index:5;;letter-spacing:0px">Face-to-face</div>
<div class="t" style="left:82.70px;top:2396.36px;font-size:28.99px;line-height:28.99px;color:#1ea2d2;font-weight:700;transform:scaleX(1.1135);z-index:5;;letter-spacing:0px">90%</div>
<div class="t" style="left:155.00px;top:2403.41px;font-size:22.46px;line-height:22.46px;color:#606060;transform:scaleX(0.9613);z-index:5;;letter-spacing:0px">of the participants thought the spatial collaboration</div>
<div class="t" style="left:174.00px;top:2426.91px;font-size:22.46px;line-height:22.46px;color:#606060;transform:scaleX(0.9497);z-index:5;;letter-spacing:0px">environment  made them <span style="color:#1ea6cc">more focused</span></div>
<div class="t" style="left:51.70px;top:2569.66px;font-size:28.99px;line-height:28.99px;color:#1ea2d2;font-weight:700;transform:scaleX(1.0859);z-index:5;;letter-spacing:0px">95%</div>
<div class="t" style="left:123.00px;top:2575.41px;font-size:22.46px;line-height:22.46px;color:#606060;transform:scaleX(0.9599);z-index:5;;letter-spacing:0px">of the participants thought the spatial collaboration was</div>
<div class="t" style="left:129.70px;top:2602.71px;font-size:22.46px;line-height:22.46px;color:#606060;transform:scaleX(0.9530);z-index:5;;letter-spacing:0px">more interesting and they would prefer to work</div>
<div class="t" style="left:240.80px;top:2629.31px;font-size:22.46px;line-height:22.46px;color:#606060;transform:scaleX(0.9450);z-index:5;;letter-spacing:0px">in this way in the future</div>
<div class="t" style="left:189.20px;top:2676.94px;font-size:11.59px;line-height:11.59px;color:#6a6a6a;transform:scaleX(0.9757);z-index:5;;letter-spacing:0px">Source: Research on the effectiveness of Collaboration Models,</div>
<div class="t" style="left:105.00px;top:2691.74px;font-size:11.59px;line-height:11.59px;color:#6a6a6a;transform:scaleX(0.9460);z-index:5;;letter-spacing:0px">(tools used MS Teams and Vive XR Suite via PC and AIO VR) July 2020, Xinzhuo Lab, Beijing, N=20</div>
<div class="t" style="left:117.85px;top:2928.56px;font-size:20.87px;line-height:20.87px;color:#259fc5;transform:scaleX(0.9202);z-index:5;;letter-spacing:0px">Would you like to participate in virtual online activities?</div>
<div class="t" style="left:286.85px;top:2952.26px;font-size:20.87px;line-height:20.87px;color:#259fc5;transform:scaleX(0.9124);z-index:5;;letter-spacing:0px">(Single choice)</div>
<div class="t" style="left:320.00px;top:3038.06px;font-size:22.75px;line-height:22.75px;color:#fff;transform:scaleX(0.8180);z-index:5;;letter-spacing:0px">No</div>
<div class="t" style="left:316.35px;top:3063.31px;font-size:21.16px;line-height:21.16px;color:#fff;transform:scaleX(0.9451);z-index:5;;letter-spacing:0px">5%</div>
<div class="t" style="left:333.80px;top:3215.46px;font-size:22.75px;line-height:22.75px;color:#fff;transform:scaleX(0.8673);z-index:5;;letter-spacing:0px">Yes</div>
<div class="t" style="left:330.20px;top:3241.25px;font-size:19.71px;line-height:19.71px;color:#fff;transform:scaleX(1.0354);z-index:5;;letter-spacing:0px">95%</div>
<div class="t" style="left:84.60px;top:3415.45px;font-size:19.71px;line-height:19.71px;color:#259fc5;transform:scaleX(0.9832);z-index:5;;letter-spacing:0px">Which of the following virtual online activities would you like to</div>
<div class="t" style="left:216.95px;top:3440.15px;font-size:19.71px;line-height:19.71px;color:#259fc5;transform:scaleX(0.9812);z-index:5;;letter-spacing:0px">participate in? (Multiple choice)</div>
<div class="t" style="left:60.85px;top:3470.74px;font-size:17.10px;line-height:17.10px;color:#777;transform:scaleX(1.0170);z-index:5;;letter-spacing:0px">63%</div>
<div class="t" style="left:60.79px;top:3660.16px;font-size:12.75px;line-height:12.75px;color:#6a6a6a;transform:scaleX(0.9720);z-index:5;;letter-spacing:0px">Virtual</div>
<div class="t" style="left:53.45px;top:3675.76px;font-size:12.75px;line-height:12.75px;color:#6a6a6a;transform:scaleX(0.9720);z-index:5;;letter-spacing:0px">Concerts</div>
<div class="t" style="left:115.16px;top:3473.18px;font-size:17.10px;line-height:17.10px;color:#777;transform:scaleX(1.0170);z-index:5;;letter-spacing:0px">62%</div>
<div class="t" style="left:116.83px;top:3660.16px;font-size:12.75px;line-height:12.75px;color:#6a6a6a;transform:scaleX(0.9720);z-index:5;;letter-spacing:0px">Virual</div>
<div class="t" style="left:111.21px;top:3675.76px;font-size:12.75px;line-height:12.75px;color:#6a6a6a;transform:scaleX(0.9720);z-index:5;;letter-spacing:0px">Cinema</div>
<div class="t" style="left:169.47px;top:3507.34px;font-size:17.10px;line-height:17.10px;color:#777;transform:scaleX(1.0170);z-index:5;;letter-spacing:0px">48%</div>
<div class="t" style="left:168.96px;top:3660.16px;font-size:12.75px;line-height:12.75px;color:#6a6a6a;transform:scaleX(0.9720);z-index:5;;letter-spacing:0px">Online</div>
<div class="t" style="left:163.44px;top:3675.76px;font-size:12.75px;line-height:12.75px;color:#6a6a6a;transform:scaleX(0.9720);z-index:5;;letter-spacing:0px">teaching</div>
<div class="t" style="left:223.78px;top:3512.22px;font-size:17.10px;line-height:17.10px;color:#777;transform:scaleX(1.0170);z-index:5;;letter-spacing:0px">46%</div>
<div class="t" style="left:223.72px;top:3660.16px;font-size:12.75px;line-height:12.75px;color:#6a6a6a;transform:scaleX(0.9720);z-index:5;;letter-spacing:0px">Virtual</div>
<div class="t" style="left:216.02px;top:3675.76px;font-size:12.75px;line-height:12.75px;color:#6a6a6a;transform:scaleX(0.9720);z-index:5;;letter-spacing:0px">shopping</div>
<div class="t" style="left:229.81px;top:3691.16px;font-size:12.75px;line-height:12.75px;color:#6a6a6a;transform:scaleX(0.9720);z-index:5;;letter-spacing:0px">mall</div>
<div class="t" style="left:278.09px;top:3517.10px;font-size:17.10px;line-height:17.10px;color:#777;transform:scaleX(1.0170);z-index:5;;letter-spacing:0px">44%</div>
<div class="t" style="left:276.20px;top:3660.16px;font-size:12.75px;line-height:12.75px;color:#6a6a6a;transform:scaleX(0.9720);z-index:5;;letter-spacing:0px">Casual</div>
<div class="t" style="left:273.44px;top:3675.76px;font-size:12.75px;line-height:12.75px;color:#6a6a6a;transform:scaleX(0.9720);z-index:5;;letter-spacing:0px">meeting</div>
<div class="t" style="left:332.40px;top:3519.54px;font-size:17.10px;line-height:17.10px;color:#777;transform:scaleX(1.0170);z-index:5;;letter-spacing:0px">43%</div>
<div class="t" style="left:331.89px;top:3660.16px;font-size:12.75px;line-height:12.75px;color:#6a6a6a;transform:scaleX(0.9720);z-index:5;;letter-spacing:0px">Online</div>
<div class="t" style="left:323.62px;top:3675.76px;font-size:12.75px;line-height:12.75px;color:#6a6a6a;transform:scaleX(0.9720);z-index:5;;letter-spacing:0px">exhibition</div>
<div class="t" style="left:386.71px;top:3519.54px;font-size:17.10px;line-height:17.10px;color:#777;transform:scaleX(1.0170);z-index:5;;letter-spacing:0px">43%</div>
<div class="t" style="left:386.20px;top:3660.16px;font-size:12.75px;line-height:12.75px;color:#6a6a6a;transform:scaleX(0.9720);z-index:5;;letter-spacing:0px">Online</div>
<div class="t" style="left:380.35px;top:3675.76px;font-size:12.75px;line-height:12.75px;color:#6a6a6a;transform:scaleX(0.9720);z-index:5;;letter-spacing:0px">museum</div>
<div class="t" style="left:441.02px;top:3519.54px;font-size:17.10px;line-height:17.10px;color:#777;transform:scaleX(1.0170);z-index:5;;letter-spacing:0px">43%</div>
<div class="t" style="left:441.54px;top:3660.16px;font-size:12.75px;line-height:12.75px;color:#6a6a6a;transform:scaleX(0.9720);z-index:5;;letter-spacing:0px">Social</div>
<div class="t" style="left:443.95px;top:3675.76px;font-size:12.75px;line-height:12.75px;color:#6a6a6a;transform:scaleX(0.9720);z-index:5;;letter-spacing:0px">Party</div>
<div class="t" style="left:495.33px;top:3541.50px;font-size:17.10px;line-height:17.10px;color:#777;transform:scaleX(1.0170);z-index:5;;letter-spacing:0px">34%</div>
<div class="t" style="left:496.88px;top:3660.16px;font-size:12.75px;line-height:12.75px;color:#6a6a6a;transform:scaleX(0.9720);z-index:5;;letter-spacing:0px">Large</div>
<div class="t" style="left:482.07px;top:3675.76px;font-size:12.75px;line-height:12.75px;color:#6a6a6a;transform:scaleX(0.9720);z-index:5;;letter-spacing:0px">conference</div>
<div class="t" style="left:493.44px;top:3691.16px;font-size:12.75px;line-height:12.75px;color:#6a6a6a;transform:scaleX(0.9720);z-index:5;;letter-spacing:0px">/ Event</div>
<div class="t" style="left:549.64px;top:3568.34px;font-size:17.10px;line-height:17.10px;color:#777;transform:scaleX(1.0170);z-index:5;;letter-spacing:0px">23%</div>
<div class="t" style="left:544.99px;top:3660.16px;font-size:12.75px;line-height:12.75px;color:#6a6a6a;transform:scaleX(0.9720);z-index:5;;letter-spacing:0px">Fashion</div>
<div class="t" style="left:552.57px;top:3675.76px;font-size:12.75px;line-height:12.75px;color:#6a6a6a;transform:scaleX(0.9720);z-index:5;;letter-spacing:0px">show</div>
<div class="t" style="left:608.78px;top:3617.28px;font-size:17.10px;line-height:17.10px;color:#777;transform:scaleX(1.0170);z-index:5;;letter-spacing:0px">2%</div>
<div class="t" style="left:602.75px;top:3660.16px;font-size:12.75px;line-height:12.75px;color:#6a6a6a;transform:scaleX(0.9720);z-index:5;;letter-spacing:0px">Others</div>
<div class="t" style="left:181.55px;top:3760.25px;font-size:12.17px;line-height:12.17px;color:#6a6a6a;transform:scaleX(0.9076);z-index:5;;letter-spacing:0px">Data Source: 1H 2020 China Market Survey, August 2020, N=2,870+</div>
</body></html>
